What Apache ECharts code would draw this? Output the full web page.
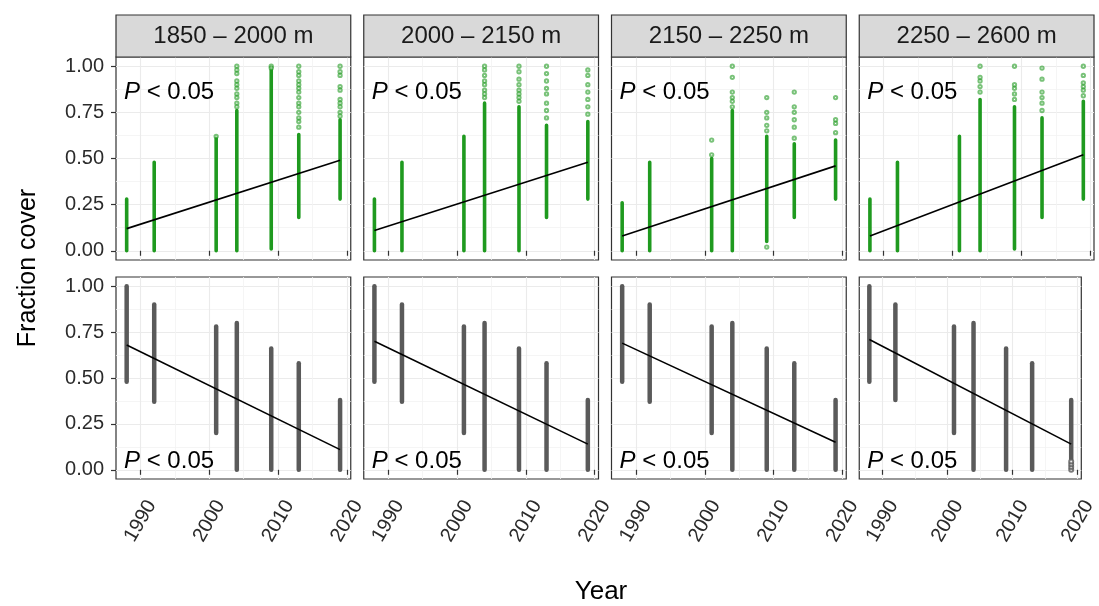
<!DOCTYPE html>
<html><head><meta charset="utf-8">
<script src="https://cdn.jsdelivr.net/npm/echarts@6/dist/echarts.min.js"></script>
<style>html,body{margin:0;padding:0;background:#fff}#c{width:1099px;height:606px}</style>
</head><body><div id="c"></div>
<script>
// ---------------- data ----------------
const panelTitles = ['1850 – 2000 m', '2000 – 2150 m', '2150 – 2250 m', '2250 – 2600 m'];
const years = [1988, 1992, 2001, 2004, 2009, 2013, 2019];
const xTickValues = [1990, 2000, 2010, 2020];
const xMinorValues = [1995, 2005, 2015];
const yTickValues = [0, 0.25, 0.5, 0.75, 1];
const yMinorValues = [0.125, 0.375, 0.625, 0.875];
const pItalic = 'P';
const pRest = ' < 0.05';
const xTitle = 'Year';
const yTitle = 'Fraction cover';

// top row (green): dense part of each year column [lo, hi]
const greenDense1 = [[0, 0.28], [0, 0.48], [0, 0.61], [0, 0.76], [0.01, 0.98], [0.18, 0.63], [0.28, 0.71]];
const greenDense2 = [[0, 0.28], [0, 0.48], [0, 0.62], [0, 0.80], [0, 0.78], [0.18, 0.68], [0.28, 0.70]];
const greenDense3 = [[0, 0.26], [0, 0.48], [0, 0.50], [0, 0.76], [0.05, 0.62], [0.18, 0.58], [0.28, 0.60]];
const greenDense4 = [[0, 0.28], [0, 0.48], [0, 0.62], [0, 0.82], [0.01, 0.78], [0.18, 0.72], [0.28, 0.81]];
// top row (green): individually visible points outside the dense part, per year
const greenSparse1 = [[], [], [0.62], [1.0, 0.98, 0.96, 0.92, 0.90, 0.88, 0.85, 0.83, 0.80, 0.78], [1.0, 0.99],
  [1.0, 0.97, 0.95, 0.92, 0.90, 0.88, 0.86, 0.83, 0.80, 0.78, 0.75, 0.72, 0.70, 0.67],
  [1.0, 0.97, 0.95, 0.89, 0.87, 0.82, 0.80, 0.78, 0.75, 0.73]];
const greenSparse2 = [[], [], [], [1.0, 0.98, 0.95, 0.92, 0.90, 0.87, 0.85, 0.83],
  [1.0, 0.97, 0.93, 0.90, 0.87, 0.85, 0.83, 0.81], [1.0, 0.96, 0.92, 0.88, 0.85, 0.80, 0.76, 0.72],
  [0.98, 0.95, 0.90, 0.86, 0.82, 0.78, 0.74]];
const greenSparse3 = [[], [], [0.52, 0.60], [1.0, 0.94, 0.86, 0.83, 0.81, 0.78], [0.02, 0.83, 0.75, 0.72, 0.68, 0.65],
  [0.86, 0.78, 0.75, 0.71, 0.67, 0.61], [0.83, 0.71, 0.69, 0.64]];
const greenSparse4 = [[], [], [], [0.86, 0.89, 0.92, 0.94, 1.0], [0.82, 0.85, 0.88, 0.90, 1.0],
  [0.76, 0.80, 0.83, 0.86, 0.93, 0.99], [0.84, 0.87, 0.89, 0.91, 0.95, 1.0]];
// top row fitted line: value at first and last year
const greenFit1 = [0.12, 0.49];
const greenFit2 = [0.11, 0.48];
const greenFit3 = [0.08, 0.46];
const greenFit4 = [0.08, 0.52];

// bottom row (grey): range of each year column [lo, hi]
const greyRange1 = [[0.48, 1.0], [0.37, 0.90], [0.20, 0.78], [0, 0.80], [0, 0.66], [0, 0.58], [0, 0.38]];
const greyRange2 = [[0.48, 1.0], [0.37, 0.90], [0.20, 0.78], [0, 0.80], [0, 0.66], [0, 0.58], [0, 0.38]];
const greyRange3 = [[0.48, 1.0], [0.37, 0.90], [0.20, 0.78], [0, 0.80], [0, 0.66], [0, 0.58], [0, 0.38]];
const greyRange4 = [[0.48, 1.0], [0.38, 0.90], [0.20, 0.78], [0, 0.80], [0, 0.66], [0, 0.58], [0.06, 0.38]];
// bottom row (grey): individually visible points outside the solid range, per year
const greySparse1 = [[], [], [], [], [], [], []];
const greySparse2 = [[], [], [], [], [], [], []];
const greySparse3 = [[], [], [], [], [], [], []];
const greySparse4 = [[], [], [], [], [], [], [0.0, 0.015, 0.03, 0.045]];
const greyFit1 = [0.68, 0.11];
const greyFit2 = [0.70, 0.14];
const greyFit3 = [0.69, 0.15];
const greyFit4 = [0.71, 0.14];

// ---------------- layout / style ----------------
const GREEN = '#1f9a1f';
const GREY = '#5a5a5a';
const FONT = '"Liberation Sans", Arial, Helvetica, sans-serif';
const panelLeft0 = 116, panelW = 234.75, panelStep = 247.75;
const topRowTop = 57, topRowH = 203;
const botRowTop = 277, botRowH = 202;
const stripTop = 15, stripH = 42;

const greenDense = [greenDense1, greenDense2, greenDense3, greenDense4];
const greenSparse = [greenSparse1, greenSparse2, greenSparse3, greenSparse4];
const greenFit = [greenFit1, greenFit2, greenFit3, greenFit4];
const greyRange = [greyRange1, greyRange2, greyRange3, greyRange4];
const greySparse = [greySparse1, greySparse2, greySparse3, greySparse4];
const greyFit = [greyFit1, greyFit2, greyFit3, greyFit4];

const grids = [], xAxes = [], yAxes = [], series = [], graphics = [];

function rangeRenderer(color, w) {
  return function (params, api) {
    const x = api.value(0), lo = api.value(1), hi = api.value(2);
    const p1 = api.coord([x, lo]), p2 = api.coord([x, hi]);
    return {
      type: 'rect',
      shape: { x: p1[0] - w / 2, y: p2[1] - w / 2, width: w, height: p1[1] - p2[1] + w, r: w / 2 },
      style: { fill: color }
    };
  };
}

for (let row = 0; row < 2; row++) {
  for (let i = 0; i < 4; i++) {
    const g = row * 4 + i;
    const left = panelLeft0 + i * panelStep;
    const top = row === 0 ? topRowTop : botRowTop;
    const h = row === 0 ? topRowH : botRowH;
    grids.push({ left: left, top: top, width: panelW, height: h, show: true,
      borderColor: '#333', borderWidth: 1.2, backgroundColor: '#fff', containLabel: false });
    xAxes.push({ type: 'value', gridIndex: g, min: 1986.45, max: 2020.55,
      axisLine: { show: false },
      axisTick: { show: true, customValues: xTickValues, length: 5, lineStyle: { color: '#333', width: 1.2 } },
      axisLabel: { show: row === 1, customValues: xTickValues, rotate: 60, margin: 42,
        align: 'center', verticalAlign: 'middle',
        fontSize: 20, fontFamily: FONT, color: '#2b2b2b', formatter: v => String(v) },
      splitLine: { show: true, lineStyle: { color: '#ebebeb', width: 1.1 } } });
    xAxes.push({ type: 'value', gridIndex: g, min: 1986.45, max: 2020.55,
      axisLine: { show: false },
      axisTick: { show: false, customValues: xMinorValues },
      axisLabel: { show: false, customValues: xMinorValues },
      splitLine: { show: true, lineStyle: { color: '#f2f2f2', width: 0.8 } } });
    yAxes.push({ type: 'value', gridIndex: g, min: -0.05, max: 1.05,
      axisLine: { show: false },
      axisTick: { show: i === 0, customValues: yTickValues, length: 5, lineStyle: { color: '#333', width: 1.2 } },
      axisLabel: { show: i === 0, customValues: yTickValues, margin: 12, fontSize: 20, fontFamily: FONT,
        color: '#2b2b2b', formatter: v => v.toFixed(2) },
      splitLine: { show: true, lineStyle: { color: '#ebebeb', width: 1.1 } } });
    yAxes.push({ type: 'value', gridIndex: g, min: -0.05, max: 1.05,
      axisLine: { show: false },
      axisTick: { show: false, customValues: yMinorValues },
      axisLabel: { show: false, customValues: yMinorValues },
      splitLine: { show: true, lineStyle: { color: '#f2f2f2', width: 0.8 } } });
    const xi = 2 * g, yi = 2 * g;
    const dense = row === 0 ? greenDense[i] : greyRange[i];
    const sparse = row === 0 ? greenSparse[i] : greySparse[i];
    const fit = row === 0 ? greenFit[i] : greyFit[i];
    const color = row === 0 ? GREEN : GREY;
    series.push({ type: 'custom', xAxisIndex: xi, yAxisIndex: yi, z: 3,
      renderItem: rangeRenderer(color, row === 0 ? 3.6 : 4.5), clip: true,
      data: years.map((y, k) => [y, dense[k][0], dense[k][1]]) });
    const pts = [];
    years.forEach((y, k) => sparse[k].forEach(v => pts.push([y, v])));
    series.push({ type: 'scatter', xAxisIndex: xi, yAxisIndex: yi, z: 3,
      symbol: 'emptyCircle', symbolSize: row === 0 ? 3.3 : 4, data: pts,
      itemStyle: { color: color, borderColor: color, borderWidth: 0.8, opacity: row === 0 ? 0.6 : 0.8 } });
    series.push({ type: 'line', xAxisIndex: xi, yAxisIndex: yi, z: 5, showSymbol: false, silent: true,
      lineStyle: { color: '#000', width: 1.6 },
      data: [[years[0], fit[0]], [years[years.length - 1], fit[1]]] });
    // P label
    graphics.push({ type: 'text', left: left + 8, top: row === 0 ? 80 : 449, z: 10,
      style: { text: '{i|' + pItalic + '}{n|' + pRest + '}', fill: '#000',
        rich: { i: { font: 'italic 24px ' + FONT, fill: '#000' }, n: { font: '24px ' + FONT, fill: '#000' } } } });
  }
}
// strips
for (let i = 0; i < 4; i++) {
  const left = panelLeft0 + i * panelStep;
  graphics.push({ type: 'rect', shape: { x: left, y: stripTop, width: panelW, height: stripH }, z: 5,
    style: { fill: '#d9d9d9', stroke: '#333', lineWidth: 1.2 } });
  graphics.push({ type: 'text', x: left + panelW / 2, y: stripTop + stripH / 2, z: 6,
    style: { text: panelTitles[i], font: '24px ' + FONT, fill: '#1a1a1a', align: 'center', verticalAlign: 'middle' } });
}
// axis titles
graphics.push({ type: 'text', x: 601, y: 592, z: 6,
  style: { text: xTitle, font: '26px ' + FONT, fill: '#000', align: 'center', verticalAlign: 'middle' } });
graphics.push({ type: 'text', x: 28, y: 268, rotation: Math.PI / 2, z: 6,
  style: { text: yTitle, font: '25px ' + FONT, fill: '#000', align: 'center', verticalAlign: 'middle' } });

const chart = echarts.init(document.getElementById('c'), null, { renderer: 'canvas' });
chart.setOption({
  animation: false,
  backgroundColor: '#fff',
  grid: grids, xAxis: xAxes, yAxis: yAxes, series: series, graphic: graphics
});
</script>
</body></html>
